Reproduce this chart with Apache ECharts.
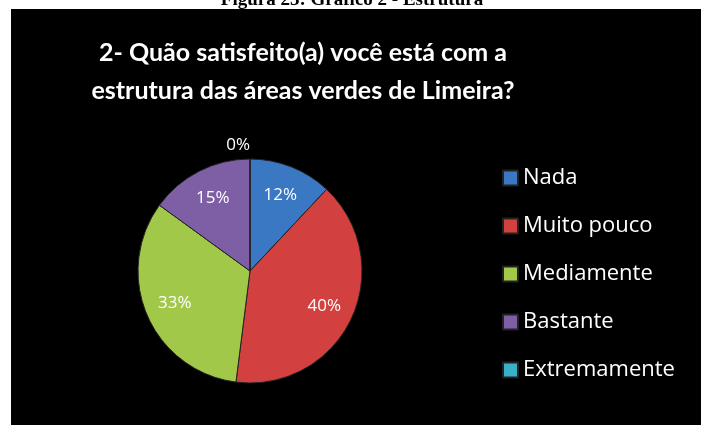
<!DOCTYPE html>
<html>
<head>
<meta charset="utf-8">
<script src="https://cdn.jsdelivr.net/npm/echarts@6/dist/echarts.min.js"></script>
<style>
    html, body { margin: 0; padding: 0; background: #fff; }
    #chart { width: 701px; height: 425px; }
</style>
</head>
<body>
<div id="chart"></div>
<script>
var categories = ['Nada', 'Muito pouco', 'Mediamente', 'Bastante', 'Extremamente'];
var values = [12, 40, 33, 15, 0];
var colors = ['#3a78c4', '#d2413f', '#a2c84a', '#7e5fa6', '#3bafc8'];

var caption = 'Figura 23: Gráfico 2 - Estrutura';
var titleText = '2- Quão satisfeito(a) você está com a\nestrutura das áreas verdes de Limeira?';

var pieData = categories.map(function (name, i) {
    return { name: name, value: values[i] };
});

var chart = echarts.init(document.getElementById('chart'));
var option = {
    backgroundColor: '#fff',
    color: colors,
    animation: false,
    graphic: [
        {
            type: 'text', z: 0, x: 352, y: 0,
            style: {
                text: caption, fill: '#000', align: 'center', verticalAlign: 'middle',
                font: 'bold 19px "Liberation Serif"'
            }
        },
        {
            type: 'rect', z: 1,
            shape: { x: 11, y: 9, width: 700, height: 420 },
            style: { fill: '#000' }
        }
    ],
    title: {
        text: titleText,
        left: 298,
        top: 29,
        textAlign: 'center',
        textStyle: {
            color: '#fff', fontFamily: 'Lato', fontWeight: 'bold',
            fontSize: 25, lineHeight: 38
        }
    },
    legend: {
        orient: 'vertical',
        left: 497,
        top: 161,
        icon: 'rect',
        itemWidth: 15,
        itemHeight: 15,
        itemGap: 24,
        data: categories,
        textStyle: { color: '#fff', fontFamily: 'Open Sans', fontSize: 22, lineHeight: 24 }
    },
    series: [
        {
            // main pie, only the zero slice gets an outside label
            type: 'pie',
            center: [250, 271],
            radius: [0, 112],
            startAngle: 90,
            data: pieData,
            itemStyle: { borderColor: '#222', borderWidth: 1 },
            label: {
                position: 'outside',
                color: '#fff',
                fontFamily: 'Open Sans',
                fontSize: 17,
                distanceToLabelLine: 0,
                formatter: function (p) { return p.value ? '' : p.percent + '%'; }
            },
            labelLine: { show: false, length: 14, length2: 0 },
            emphasis: { disabled: true }
        },
        {
            // transparent ring used only to place the inner labels further out
            type: 'pie',
            center: [250, 271],
            radius: [46, 112],
            startAngle: 90,
            silent: true,
            data: pieData,
            itemStyle: { color: 'rgba(0,0,0,0)' },
            label: {
                position: 'inside',
                color: '#fff',
                fontFamily: 'Open Sans',
                fontSize: 17,
                formatter: function (p) { return p.value ? p.percent + '%' : ''; }
            },
            labelLine: { show: false },
            emphasis: { disabled: true }
        }
    ]
};
chart.setOption(option);
</script>
</body>
</html>
